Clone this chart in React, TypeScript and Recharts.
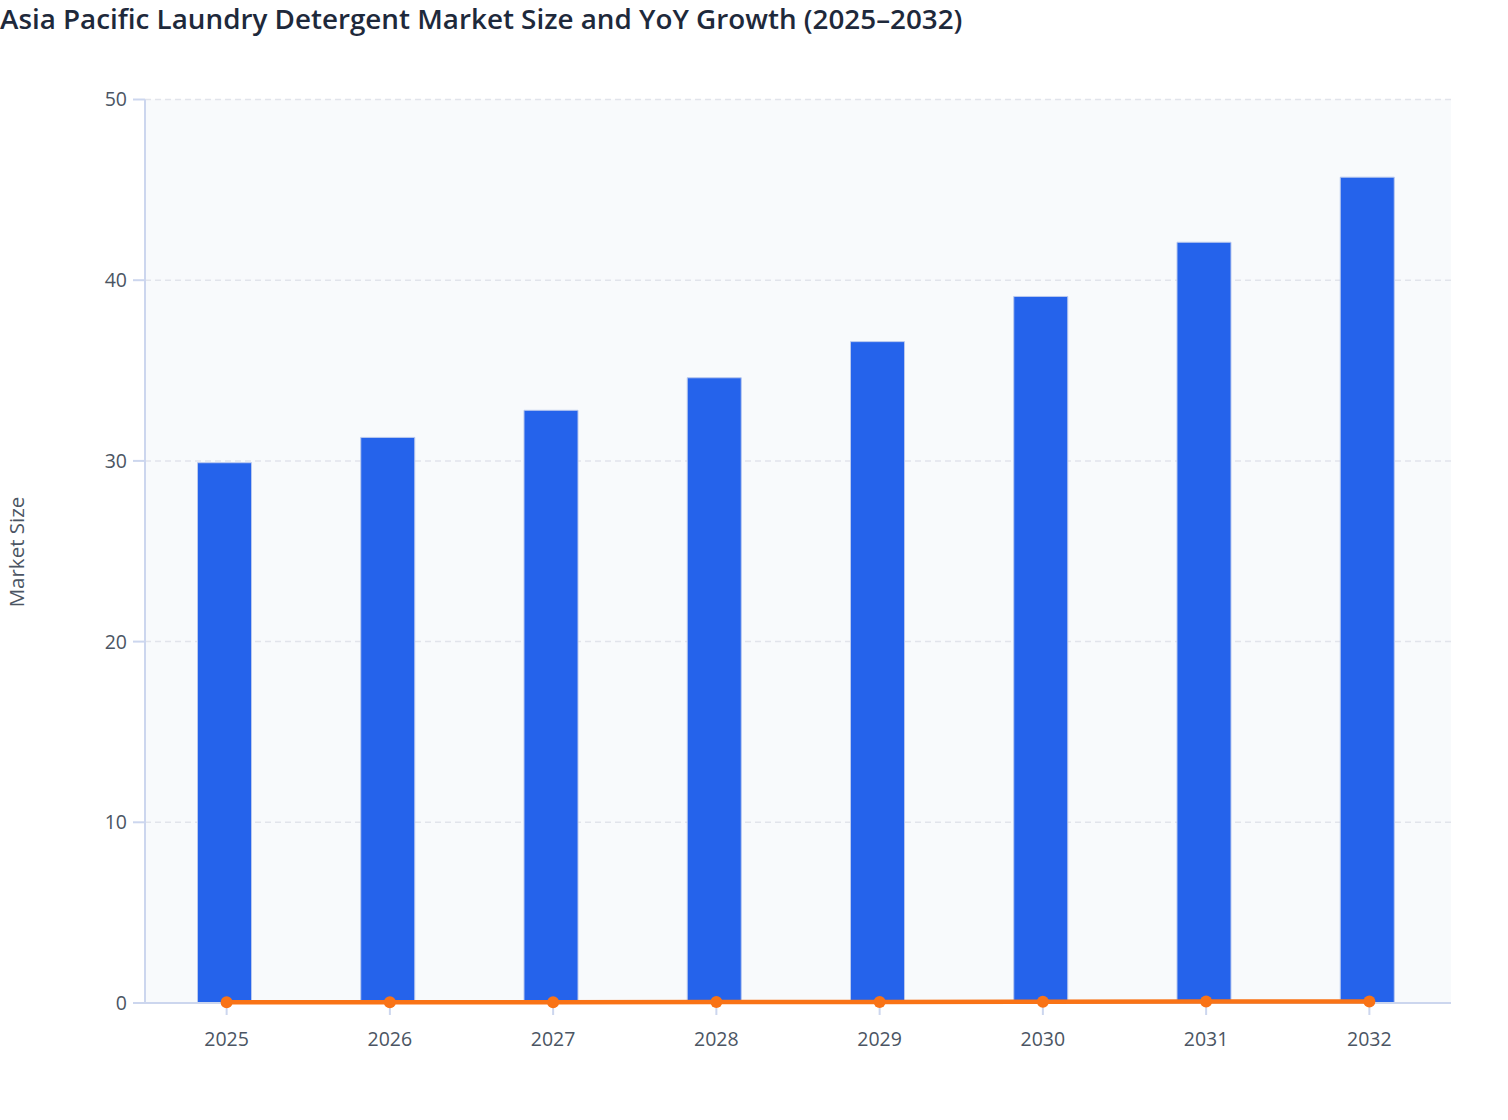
import { ComposedChart, Bar, Line, XAxis, YAxis, CartesianGrid, Rectangle } from 'recharts';

const years = ['2025', '2026', '2027', '2028', '2029', '2030', '2031', '2032'];
const marketSize = [29.9, 31.3, 32.8, 34.6, 36.6, 39.1, 42.1, 45.7];
const yoyGrowth = [0.04, 0.047, 0.048, 0.055, 0.058, 0.068, 0.077, 0.086];
const yTicks = [0, 10, 20, 30, 40, 50];

const data = years.map((year, i) => ({
  year,
  size: marketSize[i],
  growth: yoyGrowth[i],
}));

const font = '"Open Sans", "Noto Sans", sans-serif';
const axisColor = '#ccd6ee';
const tickStyle = { fill: '#4b5563', fontSize: 19.5, fontFamily: font };

// bars sit a couple of pixels left of the category centre in the original
const ShiftedBar = (props: any) => <Rectangle {...props} x={props.x - 2.5} />;

export default function App() {
  return (
    <div style={{ position: 'absolute', left: 0, top: 0, width: 1508, height: 1120, background: '#fff' }}>
      <div
        style={{
          position: 'absolute',
          left: 0,
          top: -1,
          fontFamily: font,
          fontSize: 27.8,
          fontWeight: 600,
          color: '#1e293b',
          lineHeight: '38px',
          whiteSpace: 'nowrap',
        }}
      >
        Asia Pacific Laundry Detergent Market Size and YoY Growth (2025–2032)
      </div>
      <div
        style={{
          position: 'absolute',
          left: 16,
          top: 552,
          transform: 'translate(-50%, -50%) rotate(-90deg)',
          fontFamily: font,
          fontSize: 20.5,
          color: '#4b5563',
          whiteSpace: 'nowrap',
        }}
      >
        Market Size
      </div>
      <ComposedChart
        width={1508}
        height={1120}
        data={data}
        margin={{ top: 99.5, right: 57, bottom: 67, left: 0 }}
        barCategoryGap="33%"
      >
        <CartesianGrid vertical={false} stroke="#e1e4eb" strokeWidth={1.5} strokeDasharray="6 4" fill="#f8fafc" />
        <XAxis
          dataKey="year"
          height={50}
          stroke={axisColor}
          strokeWidth={2}
          tickSize={12}
          tickMargin={17}
          tick={tickStyle}
        />
        <YAxis
          width={145}
          domain={[0, 50]}
          ticks={yTicks}
          stroke={axisColor}
          strokeWidth={2}
          tickSize={12}
          tickMargin={6}
          tick={tickStyle}
        />
        <Bar
          dataKey="size"
          fill="#2563eb"
          stroke="#b9c8ee"
          strokeWidth={1}
          barSize={54}
          shape={ShiftedBar}
          isAnimationActive={false}
        />
        <Line
          dataKey="growth"
          type="linear"
          stroke="#f97316"
          strokeWidth={4.5}
          dot={{ r: 6, fill: '#f97316', stroke: '#f97316', strokeWidth: 0 }}
          activeDot={false}
          zIndex={700}
          isAnimationActive={false}
        />
      </ComposedChart>
    </div>
  );
}
